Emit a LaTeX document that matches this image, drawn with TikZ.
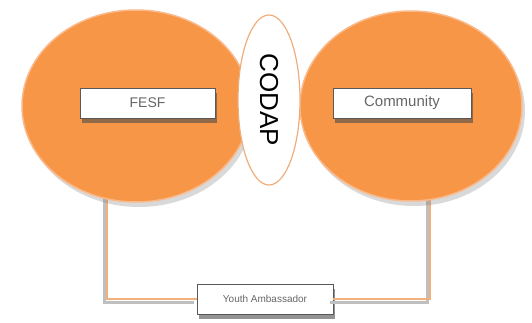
\documentclass[tikz,border=0pt]{standalone}
\usepackage{fontspec}
\setmainfont{Liberation Sans}
\usetikzlibrary{shapes.geometric,shadows,calc}

\definecolor{codapOrange}{HTML}{F79646}
\definecolor{rimOrange}{HTML}{FAB98A}
\definecolor{linkOrange}{HTML}{F3B07A}

\tikzset{
    partner/.style={ellipse,fill=codapOrange,draw=rimOrange,line width=1.5pt,inner sep=0pt,
        drop shadow={shadow xshift=3pt,shadow yshift=-5pt,opacity=0.3}},
    labelbox/.style={rectangle,fill=white,draw=black!65,line width=0.8pt,inner sep=0pt,
        text=black!60,drop shadow={shadow xshift=2pt,shadow yshift=-5pt,opacity=0.6,fill=black!70}},
    link/.style={draw=linkOrange,line width=2.5pt},
    linkshade/.style={draw=black!25,line width=3pt,transform canvas={xshift=-3pt,yshift=-3pt}}
}

\begin{document}
\begin{tikzpicture}[x=1pt,y=-1pt]
        \useasboundingbox (0,0) rectangle (532,323);

        % Bottom box
        \node[labelbox,minimum width=136pt,minimum height=30pt,font=\fontsize{10}{10}\selectfont] (youth) at (265,299) {Youth Ambassador};

        % Arcs to the bottom box
        \coordinate (lDrop) at (107,150);
        \coordinate (rDrop) at (430,150);
        \draw[linkshade] (lDrop) |- (youth);
        \draw[linkshade] (rDrop) |- (youth);
        \draw[link] (lDrop) |- (youth);
        \draw[link] (rDrop) |- (youth);

        % Left and right partners
        \node[partner,minimum width=228pt,minimum height=192pt] (fesfEll) at (136,106) {};
        \node[partner,minimum width=222pt,minimum height=190pt] (commEll) at (411,106) {};

        % Middle ellipse
        \node[ellipse,fill=white,draw=rimOrange!80!brown,line width=1.2pt,minimum width=62pt,minimum height=170pt,inner sep=0pt] (codap) at (269,100) {};
        \node[rotate=-90,font=\fontsize{26}{26}\selectfont] (codapText) at (codap) {CODAP};

        % Boxes inside the partners
        \node[labelbox,minimum width=135pt,minimum height=30pt,font=\fontsize{14}{14}\selectfont] (fesf) at (147.5,103) {FESF};
        \node[labelbox,minimum width=138pt,minimum height=30pt,font=\fontsize{15}{15}\selectfont] (community) at (402,103) {Community};

\end{tikzpicture}
\end{document}
